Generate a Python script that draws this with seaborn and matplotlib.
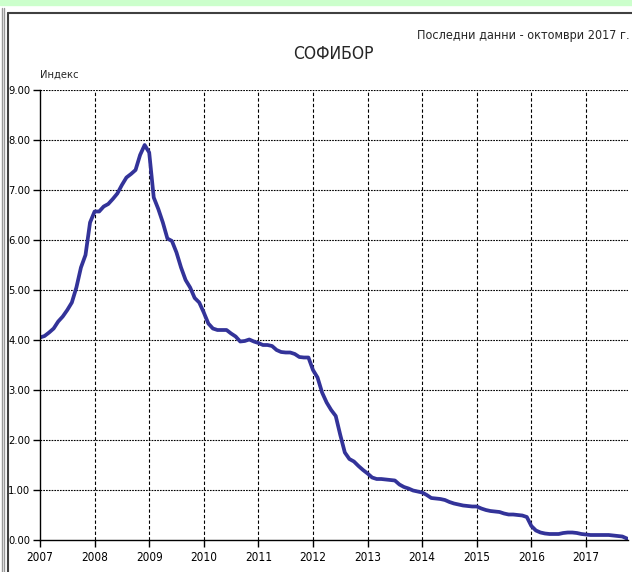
import numpy as np
import pandas as pd
import matplotlib
matplotlib.use("Agg")
import matplotlib.pyplot as plt
import seaborn as sns
from matplotlib.lines import Line2D
from matplotlib.patches import Rectangle

# monthly SOFIBOR index, Jan 2007 - Oct 2017
start_year = 2007
sofibor = [
    4.05, 4.08, 4.15, 4.23, 4.37, 4.47, 4.60, 4.75, 5.05, 5.45, 5.70, 6.35,
    6.57, 6.57, 6.67, 6.72, 6.82, 6.93, 7.10, 7.25, 7.32, 7.40, 7.70, 7.90,
    7.75, 6.85, 6.62, 6.35, 6.03, 5.98, 5.75, 5.45, 5.20, 5.05, 4.84, 4.75,
    4.55, 4.33, 4.23, 4.20, 4.20, 4.20, 4.13, 4.07, 3.97, 3.98, 4.01, 3.97,
    3.94, 3.90, 3.90, 3.88, 3.80, 3.76, 3.75, 3.75, 3.72, 3.66, 3.65, 3.65,
    3.40, 3.25, 2.95, 2.75, 2.60, 2.48, 2.10, 1.75, 1.62, 1.57, 1.48, 1.40,
    1.33, 1.25, 1.22, 1.22, 1.21, 1.20, 1.19, 1.11, 1.06, 1.03, 0.99, 0.97,
    0.95, 0.90, 0.84, 0.83, 0.82, 0.80, 0.76, 0.73, 0.71, 0.69, 0.68, 0.67,
    0.67, 0.63, 0.60, 0.58, 0.57, 0.56, 0.53, 0.51, 0.51, 0.50, 0.49, 0.46,
    0.28, 0.19, 0.15, 0.13, 0.12, 0.12, 0.12, 0.14, 0.15, 0.15, 0.14, 0.12,
    0.11, 0.10, 0.10, 0.10, 0.10, 0.10, 0.09, 0.08, 0.07, 0.03,
]
year_ticks = list(range(2007, 2018))
y_ticks = [0, 1, 2, 3, 4, 5, 6, 7, 8, 9]

df = pd.DataFrame({
    "t": [start_year + i / 12 for i in range(len(sofibor))],
    "v": sofibor,
})

sns.set_style("white")
plt.rcParams["font.family"] = ["DejaVu Sans"]
plt.rcParams["font.stretch"] = "condensed"

fig = plt.figure(figsize=(6.32, 5.72), dpi=100)
ax = fig.add_axes([40 / 632, 1 - 540 / 572, 588 / 632, 450 / 572])
ax.patch.set_alpha(0)

sns.lineplot(data=df, x="t", y="v", ax=ax, color="#333399", linewidth=2.7)

ax.set_xlim(2007, start_year + (len(sofibor) - 1) / 12 + 0.02)
ax.set_ylim(0, 9)
ax.set_xticks(year_ticks)
ax.set_xticklabels([str(y) for y in year_ticks], fontsize=8.5, fontstretch="condensed")
ax.set_yticks(y_ticks)
ax.set_yticklabels(["%.2f" % v for v in y_ticks], fontsize=8, fontstretch="condensed")
ax.set_xlabel("")
ax.set_ylabel("")

# grid
for y in y_ticks[1:]:
    ax.axhline(y, color="black", lw=0.8, ls=(0, (1.5, 1)), zorder=0)
for x in year_ticks[1:]:
    ax.axvline(x, color="black", lw=0.8, ls=(0, (3, 2)), zorder=0)

for s in ["top", "right"]:
    ax.spines[s].set_visible(False)
for s in ["left", "bottom"]:
    ax.spines[s].set_color("black")
    ax.spines[s].set_linewidth(1.0)
ax.tick_params(axis="both", which="both", direction="out", length=5, width=1,
               color="black", labelcolor="black", pad=3, bottom=True, left=True)
ax.tick_params(axis="y", pad=2)

fig.text(40 / 632, 1 - 75 / 572, "Индекс", fontsize=8, ha="left", va="center",
         fontstretch="condensed")
fig.text(333 / 632, 1 - 54 / 572, "СОФИБОР", fontsize=12.5, ha="center", va="center",
         fontstretch="condensed")
fig.text(630 / 632, 1 - 35 / 572, "Последни данни - октомври 2017 г.",
         fontsize=9, ha="right", va="center", fontstretch="condensed")

# page decorations (kept behind the axes)
fig.patches.append(Rectangle((0, 1 - 5 / 572), 1, 5 / 572, transform=fig.transFigure,
                             color="#ccffcc", zorder=-2))
fig.lines.append(Line2D([8 / 632, 8 / 632], [0, 1 - 13 / 572], transform=fig.transFigure,
                        color="#404040", lw=1.5, zorder=-1))
fig.lines.append(Line2D([8 / 632, 1], [1 - 13 / 572, 1 - 13 / 572], transform=fig.transFigure,
                        color="#404040", lw=1.5, zorder=-1))
fig.lines.append(Line2D([2 / 632, 2 / 632], [0, 1 - 8 / 572], transform=fig.transFigure,
                        color="#999999", lw=1.0, zorder=-1))
fig.lines.append(Line2D([4 / 632, 4 / 632], [0, 1 - 8 / 572], transform=fig.transFigure,
                        color="#999999", lw=1.0, zorder=-1))

fig.savefig("out.png", dpi=100)
